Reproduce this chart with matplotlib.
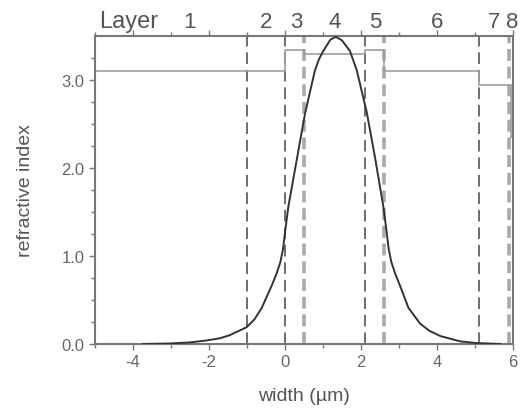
import matplotlib.pyplot as plt
import numpy as np

plt.rcParams['font.family'] = ['Liberation Sans', 'DejaVu Sans']
plt.rcParams['axes.unicode_minus'] = False

# mode intensity profile
x_mode = [-3.73, -3.0, -2.5, -2.06, -1.71, -1.45, -1.01, -0.80, -0.61, -0.35, -0.22, -0.12,
          -0.05, 0.0, 0.09, 0.31, 0.53, 0.79, 0.90, 1.01, 1.20, 1.34, 1.50, 1.71, 1.89,
          2.15, 2.37, 2.59, 2.68, 2.73, 2.80, 2.90, 3.03, 3.25, 3.56, 3.80, 4.09, 4.61,
          5.05, 5.67]
y_mode = [0.0, 0.006, 0.018, 0.04, 0.065, 0.10, 0.19, 0.28, 0.41, 0.66, 0.80, 0.93,
          1.08, 1.26, 1.56, 2.09, 2.62, 3.11, 3.24, 3.33, 3.46, 3.49, 3.45, 3.33, 3.11,
          2.64, 2.12, 1.56, 1.26, 1.08, 0.93, 0.80, 0.66, 0.41, 0.23, 0.15, 0.09, 0.03,
          0.01, 0.0]

# layer structure
layer_edges = [-5.0, -1.0, 0.0, 0.5, 2.1, 2.6, 5.1, 5.94, 6.0]
layer_index = [3.10, 3.10, 3.34, 3.29, 3.34, 3.10, 2.94, 2.35]
dark_bounds = [-1.0, 0.0, 2.1, 5.1]
light_bounds = [0.5, 2.6, 5.9]
layer_names = ['1', '2', '3', '4', '5', '6', '7', '8']
label_pos = [-2.5, -0.5, 0.3, 1.32, 2.37, 4.0, 5.5, 5.98]

grey = '#666666'
fig = plt.figure(figsize=(5.24, 4.14), dpi=100)
ax = fig.add_axes([0.181, 0.1667, 0.798, 0.744])

# boundaries
for b in dark_bounds:
    ax.axvline(b, color='#555555', lw=1.2, dashes=(7, 3.5), zorder=1)
for b in light_bounds:
    ax.axvline(b, color='#aaaaaa', lw=2.6, dashes=(3.3, 1.6), zorder=1)

# refractive index steps
ax.stairs(layer_index, layer_edges, baseline=None, color='#a0a0a0', lw=1.2, zorder=2)

ax.plot(x_mode, y_mode, color='#333333', lw=1.4, zorder=3)

ax.set_xlim(-5, 6)
ax.set_ylim(0, 3.5)
ax.set_xticks([-4, -2, 0, 2, 4, 6])
ax.set_xticks([-5, -3, -1, 1, 3, 5], minor=True)
ax.set_yticks([0, 1, 2, 3])
ax.set_yticklabels(['0.0', '1.0', '2.0', '3.0'])
ax.set_yticks(np.arange(0, 3.5, 0.25), minor=True)

for s in ax.spines.values():
    s.set_color('#777777')
    s.set_linewidth(1.5)
ax.tick_params(which='both', direction='out', colors='#777777', labelcolor=grey,
               labelsize=12, top=True)
ax.tick_params(which='major', length=4, width=1)
ax.tick_params(which='minor', length=3, width=1)

ax.set_xlabel('width (µm)', fontsize=14, color='#555555', labelpad=13)
ax.set_ylabel('refractive index', fontsize=14, color='#555555', labelpad=20)

# layer labels above the frame
ax.text(-4.1, 3.6, 'Layer', fontsize=17, color='#555555', ha='center', va='baseline')
for name, xp in zip(layer_names, label_pos):
    ax.text(xp, 3.6, name, fontsize=16, color='#555555', ha='center', va='baseline')

fig.savefig('out.png', dpi=100)
